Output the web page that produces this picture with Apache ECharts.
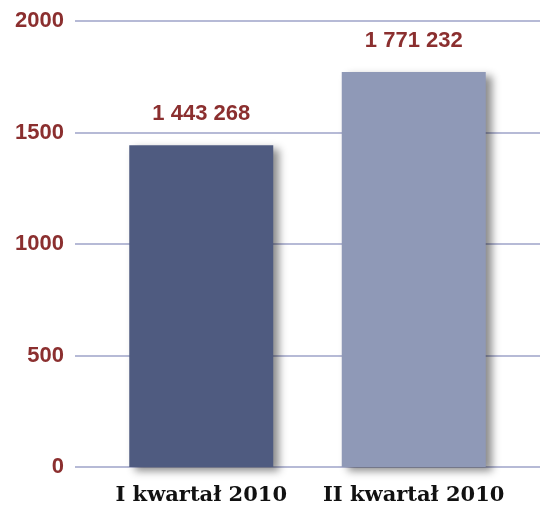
<!DOCTYPE html>
<html>
<head>
<meta charset="utf-8">
<script src="https://cdn.jsdelivr.net/npm/echarts@6/dist/echarts.min.js"></script>
<style>html,body{margin:0;padding:0;background:#fff;overflow:hidden;}#c{width:540px;height:509px;}</style>
</head>
<body>
<div id="c"></div>
<script>
var categories = ['I kwartał 2010', 'II kwartał 2010'];
var values = [1443.268, 1771.232];
var valueLabels = ['1 443 268', '1 771 232'];
var barColors = ['#4f5b80', '#8f99b7'];
var yTicks = [0, 500, 1000, 1500, 2000];

var chart = echarts.init(document.getElementById('c'));
var red = '#8b2f2f';
chart.setOption({
  animation: false,
  grid: [
    {left: 75, right: 0, top: 21, bottom: 42, outerBoundsMode: 'none', containLabel: false},
    {left: 95, right: 20, top: 21, bottom: 42, outerBoundsMode: 'none', containLabel: false}
  ],
  xAxis: [
    {gridIndex: 0, type: 'value', min: 0, max: 1, show: false, splitLine: {show: false}},
    {gridIndex: 1, type: 'category', data: categories,
     axisLine: {show: false}, axisTick: {show: false},
     axisLabel: {interval: 0, margin: 18, color: '#111', fontFamily: 'DejaVu Serif', fontWeight: 'bold', fontSize: 21}}
  ],
  yAxis: [
    {gridIndex: 0, type: 'value', min: yTicks[0], max: yTicks[yTicks.length-1], interval: 500,
     axisLine: {show: false}, axisTick: {show: false},
     axisLabel: {margin: 11, color: red, fontFamily: 'Liberation Sans', fontWeight: 'bold', fontSize: 22,
                 formatter: function (v) { return String(v); }},
     splitLine: {lineStyle: {color: '#b6bad6', width: 2}}},
    {gridIndex: 1, type: 'value', min: 0, max: 2000, interval: 500, show: false, splitLine: {show: false}}
  ],
  series: [{
    type: 'bar',
    xAxisIndex: 1, yAxisIndex: 1,
    barWidth: 144,
    data: values.map(function (v, i) {
      return {value: v, itemStyle: {color: barColors[i]}};
    }),
    itemStyle: {shadowColor: 'rgba(0,0,0,0.45)', shadowBlur: 8, shadowOffsetX: 6, shadowOffsetY: 4},
    label: {
      show: true, position: 'top', distance: 20,
      color: red, fontFamily: 'Liberation Sans', fontWeight: 'bold', fontSize: 22,
      formatter: function (p) { return valueLabels[p.dataIndex]; }
    }
  }]
});
</script>
</body>
</html>
